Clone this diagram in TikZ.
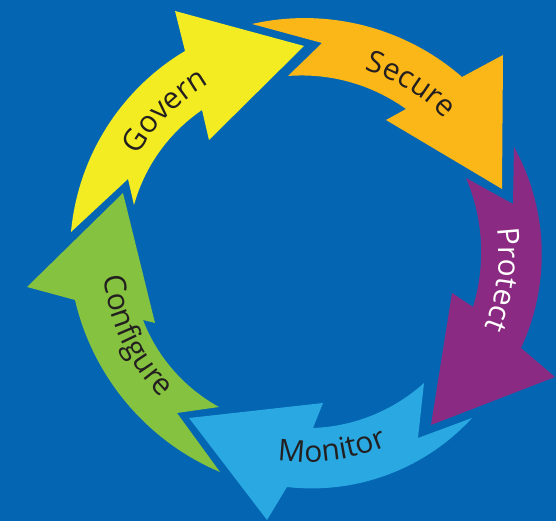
\documentclass[tikz,border=0pt]{standalone}
\usepackage{fontspec}
\usetikzlibrary{calc,decorations.text}
\newfontfamily\lblfam{Open Sans}
\newcommand\lblfont{\lblfam\fontsize{30}{36}\selectfont}
\definecolor{bgblue}{HTML}{0465B2}
\definecolor{cgovern}{HTML}{F4EC22}
\definecolor{csecure}{HTML}{FBB617}
\definecolor{cprotect}{HTML}{8B2A82}
\definecolor{cmonitor}{HTML}{29A8E1}
\definecolor{cconfig}{HTML}{85C23F}
\definecolor{textdark}{HTML}{231F20}
\tikzset{
  inarc/.style={bend left=20, looseness=0.88},
  outarc/.style={bend right=27, looseness=0.9},
  lbl/.style n args={2}{decorate, decoration={text along path, text align=center, text color=#2, text={|\lblfont|#1}}}
}
\begin{document}
\begin{tikzpicture}[x=1pt,y=1pt]
\fill[bgblue] (0,0) rectangle (556,521);
\useasboundingbox (0,0) rectangle (556,521);
\coordinate (C) at (307,267);
% Govern
\fill[cgovern] (71,289) -- (128,342) -- (134,316) to[inarc] (202,411) -- (209,381) -- (304,475) -- (175,510) -- (185,470) to[outarc] (71,289) -- cycle;
% Secure
\fill[csecure] (252,497) -- (322,478) -- (288,445) to[inarc] (406,412) -- (386,401) -- (502,332) -- (503,466) -- (462,444) to[outarc] (252,497) -- cycle;
% Protect
\fill[cprotect] (514,374) -- (513,317) -- (466,343) to[inarc] (473,214) -- (452,228) -- (431,96) -- (555,144) -- (521,173) to[outarc] (514,374) -- cycle;
% Monitor
\fill[cmonitor] (472,103) -- (418,83) -- (424,138) to[inarc] (313,93) -- (323,118) -- (189,103) -- (267,1) -- (287,34) to[outarc] (472,103) -- cycle;
% Configure
\fill[cconfig] (220,49) -- (177,108) -- (219,114) to[inarc] (143,201) -- (155,198) -- (123,328) -- (27,234) -- (75,221) to[outarc] (220,49) -- cycle;
% labels
\path[lbl={Govern}{textdark}] ($(C)+(174.8:196)$) arc[start angle=174.8, end angle=94.8, radius=196pt];
\path[lbl={Secure}{textdark}] ($(C)+(98.5:193)$) arc[start angle=98.5, end angle=18.5, radius=193pt];
\path[lbl={Protect}{white}] ($(C)+(32.6:192)$) arc[start angle=32.6, end angle=-47.4, radius=192pt];
\path[lbl={Monitor}{textdark}] ($(C)+(-122.7:208)$) arc[start angle=-122.7, end angle=-42.7, radius=208pt];
\path[lbl={Configure}{textdark}] ($(C)+(165.5:205)$) arc[start angle=165.5, end angle=245.5, radius=205pt];
\end{tikzpicture}
\end{document}
